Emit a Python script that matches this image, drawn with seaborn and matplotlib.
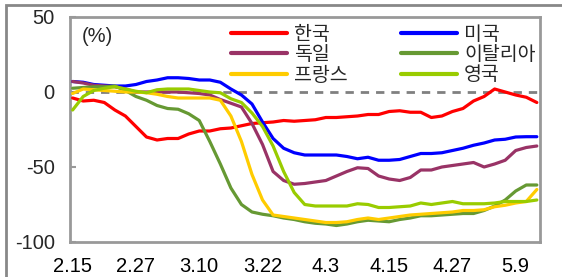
import matplotlib
matplotlib.use("Agg")
import matplotlib.pyplot as plt
import numpy as np
import pandas as pd
import seaborn as sns
from matplotlib.patches import Rectangle

# days since 2.15, every second day
days = np.arange(0, 89, 2)
tick_days = [0, 12, 24, 36, 48, 60, 72, 84]
tick_labels = ["2.15", "2.27", "3.10", "3.22", "4.3", "4.15", "4.27", "5.9"]

korea = [-4, -6, -5.5, -7, -12, -16, -23, -30, -32, -31, -31, -28, -26, -26, -24.5,
         -24, -22.5, -21, -20.5, -20, -19, -19.5, -19, -18.5, -17, -17, -16.5, -16,
         -15, -15, -13, -12.5, -13.5, -13.5, -17, -16, -13, -11, -6, -3, 2, 0, -2,
         -3.5, -7]
usa = [7, 6.5, 5, 4.5, 4, 4, 5, 7, 8, 9.5, 9.5, 9, 8, 8, 6.5, 2, -2, -8, -20, -31,
       -37.5, -40.5, -42, -42, -42, -42, -43, -44.5, -43.5, -45.5, -45.5, -45, -43,
       -41, -41, -40.5, -39, -37.5, -35.5, -34, -32, -31.5, -30, -29.8, -29.8]
germany = [7, 6, 4.5, 4, 3.5, 2, 0, 0, 0, 0, 0, -0.5, -1, -2, -5, -7.5, -10, -21,
           -35, -53, -59, -61.5, -61, -60, -59, -56, -53, -50.5, -51, -56, -58, -59,
           -57, -52, -52, -50, -49, -48, -47, -50, -48, -45.5, -39, -37, -36]
italy = [2.5, 3, 3.5, 3.5, 4, 1, -3, -5.5, -9, -11, -11.5, -14.5, -19, -33, -48, -64,
         -75, -80, -81.5, -82.5, -84, -85, -86.5, -87.5, -88, -89, -88, -86.5, -85.5,
         -86, -86.5, -85, -84, -82.5, -82.5, -82, -81.5, -81, -81, -79, -76, -72, -66,
         -62, -62]
france = [-1, 2, 1.5, 1, 0.5, 0, 0, -0.5, -1.5, -3, -4, -4, -4, -4, -5.5, -16, -33,
          -55, -72, -82, -83, -84, -85, -86, -87, -87, -86.5, -85, -84, -85, -84, -83,
          -82, -81.5, -81, -80.5, -80, -79, -79, -78.5, -76.5, -75.5, -74, -73, -65]
uk = [-12, -3, 1, 2.5, 3.5, 2, 0.5, -0.5, 1.5, 2, 2, 2, 1, 0, -0.5, -4.5, -7, -14,
      -23, -36, -53, -67, -75, -76, -76, -76, -76, -74.5, -75, -77, -77, -76.5, -76,
      -74, -75, -74, -73, -74.5, -74.5, -74.5, -74, -73, -73, -73, -72]

series = {"한국": korea, "미국": usa, "독일": germany,
          "이탈리아": italy, "프랑스": france, "영국": uk}
colors = {"한국": "#ff0000", "미국": "#0000ff", "독일": "#993366",
          "이탈리아": "#669933", "프랑스": "#ffcc00", "영국": "#99cc00"}

df = pd.DataFrame(series, index=days).reset_index(names="day")
long = df.melt(id_vars="day", var_name="country", value_name="value")

sns.set_theme(style="white")
plt.rcParams["font.family"] = ["Liberation Sans", "Noto Sans CJK KR"]

fig = plt.figure(figsize=(5.62, 2.77), dpi=100)
ax = fig.add_axes([70 / 562, 35 / 277, 470 / 562, 225 / 277])

ax.axhline(0, color="#808080", lw=2, ls=(0, (3, 2.5)), zorder=1)
sns.lineplot(data=long, x="day", y="value", hue="country",
             hue_order=list(series), palette=colors, lw=2.3, ax=ax,
             legend=False, zorder=3)

ax.set_xlim(-0.5, 88.6)
ax.set_ylim(-100, 50)
ax.set_yticks([50, 0, -50, -100])
ax.set_yticklabels(["50", "0", "-50", "-100"])
ax.set_xticks(tick_days)
ax.set_xticklabels(tick_labels)
ax.set_xlabel("")
ax.set_ylabel("")
ax.tick_params(axis="x", length=0, pad=11, labelsize=14.5, colors="black")
ax.tick_params(axis="y", direction="in", length=4, width=1.5, color="#999999",
               left=True, pad=11, labelsize=14.5)
for sp in ax.spines.values():
    sp.set_color("#999999")
    sp.set_linewidth(2)

ax.text(0.025, 0.955, "(%)", transform=ax.transAxes, fontsize=14.5, va="top")

lines = ax.get_lines()[1:]
names = list(series)
order = ["한국", "독일", "프랑스", "미국", "이탈리아", "영국"]
handles = [lines[names.index(n)] for n in order]
ax.legend(handles, order, ncol=2, frameon=False, loc="upper left",
          bbox_to_anchor=(0.325, 0.995), fontsize=14, handlelength=2.9,
          handletextpad=0.35, columnspacing=2.75, labelspacing=0.12,
          borderaxespad=0)
for h in ax.get_legend().legend_handles:
    h.set_linewidth(3)

fig.patches.append(Rectangle((6 / 562, -0.5), 2, 1.5 - 5 / 277, fill=False,
                             edgecolor="#888888", lw=2,
                             transform=fig.transFigure, figure=fig))

fig.savefig("out.png", dpi=100)
